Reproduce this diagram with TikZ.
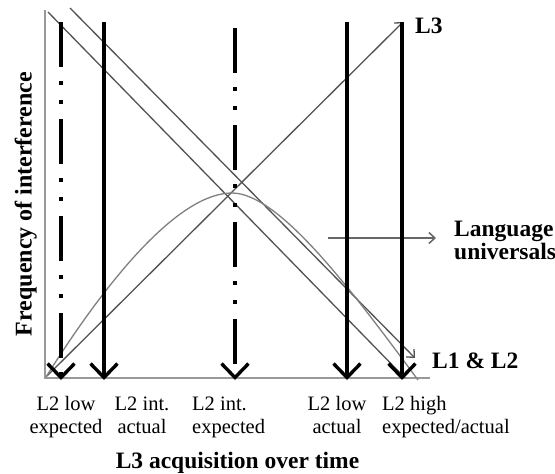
\documentclass[tikz,border=0pt]{standalone}
\usepackage{fontspec}
\setmainfont{Liberation Serif}
\usetikzlibrary{arrows.meta}
\begin{document}
\begin{tikzpicture}[x=1pt,y=-1pt,
  axisline/.style={draw=black!40, line width=2pt},
  diag/.style={draw=black!68, line width=1.3pt},
  curv/.style={draw=black!50, line width=1.3pt},
  thin arrow/.style={-{Straight Barb[length=6pt,width=11pt]}},
  bigarrow/.style={line width=3.3pt, -{Straight Barb[length=14pt,width=27pt,line width=3.4pt]}},
  dashdd/.style={dash pattern=on 45pt off 14pt on 4pt off 15pt on 4pt off 15pt},
  lab/.style={font=\fontsize{20.5}{23}\selectfont, inner sep=0pt},
  blab/.style={font=\fontsize{23.5}{26}\selectfont\bfseries, inner sep=0pt},
]
\path[use as bounding box, fill=white] (0,0) rectangle (555,474);

% axes
\coordinate (ytop) at (45,10);
\coordinate (origin) at (45,378);
\coordinate (xend) at (430,378);
\draw[axisline] (ytop) -- (origin) -- (xend);

% diagonal lines
\coordinate (L3s) at (47,376);
\coordinate (L3e) at (403,22);
\coordinate (As) at (48,12);
\coordinate (Ae) at (405,378);
\coordinate (Bs) at (70,8);
\coordinate (Be) at (415,358);
\draw[diag, thin arrow] (L3s) -- (L3e);
\draw[diag] (As) -- (Ae);
\draw[diag, thin arrow] (Bs) -- (Be);

% curve
\coordinate (cs) at (46,377);
\coordinate (peak) at (232,193);
\coordinate (ce) at (418,380);
\draw[curv] (cs) .. controls (110,275) and (180,193) .. (peak)
  .. controls (280,193) and (355,295) .. (ce);

% language universals arrow
\coordinate (lus) at (328,238);
\coordinate (lue) at (436,238);
\draw[draw=black!60, line width=1.5pt, thin arrow] (lus) -- (lue);

% vertical arrows
\coordinate (a1t) at (61,22);  \coordinate (a1b) at (61,380);
\coordinate (a2t) at (104,22); \coordinate (a2b) at (104,380);
\coordinate (a3t) at (235,28); \coordinate (a3b) at (235,380);
\coordinate (a4t) at (347,22); \coordinate (a4b) at (347,380);
\coordinate (a5t) at (402,22); \coordinate (a5b) at (402,380);
\draw[bigarrow, dashdd] (a1t) -- (a1b);
\draw[bigarrow] (a2t) -- (a2b);
\draw[bigarrow, dashdd] (a3t) -- (a3b);
\draw[bigarrow] (a4t) -- (a4b);
\draw[bigarrow] (a5t) -- (a5b);

% labels
\node[blab, anchor=base west] (tL3) at (415,33) {L3};
\node[blab, anchor=base west] (tLang) at (454,236) {Language};
\node[blab, anchor=base west] (tUniv) at (454,259) {universals};
\node[blab, anchor=base west] (tL12) at (432,368) {L1 \& L2};
\node[blab, anchor=base] (tX) at (237.5,468) {L3 acquisition over time};
\node[font=\fontsize{24}{26}\selectfont\bfseries, inner sep=0pt, rotate=90, anchor=base] (tY) at (31.5,204) {Frequency of interference};

\node[lab, anchor=base] (b1a) at (66,410) {L2 low};
\node[lab, anchor=base] (b1b) at (66,433) {expected};
\node[lab, anchor=base] (b2a) at (142,410) {L2 int.};
\node[lab, anchor=base] (b2b) at (142,433) {actual};
\node[lab, anchor=base west] (b3a) at (192,410) {L2 int.};
\node[lab, anchor=base west] (b3b) at (192,433) {expected};
\node[lab, anchor=base] (b4a) at (337,410) {L2 low};
\node[lab, anchor=base] (b4b) at (337,433) {actual};
\node[lab, anchor=base west] (b5a) at (382,410) {L2 high};
\node[lab, anchor=base west] (b5b) at (382,433) {expected/actual};
\end{tikzpicture}
\end{document}
